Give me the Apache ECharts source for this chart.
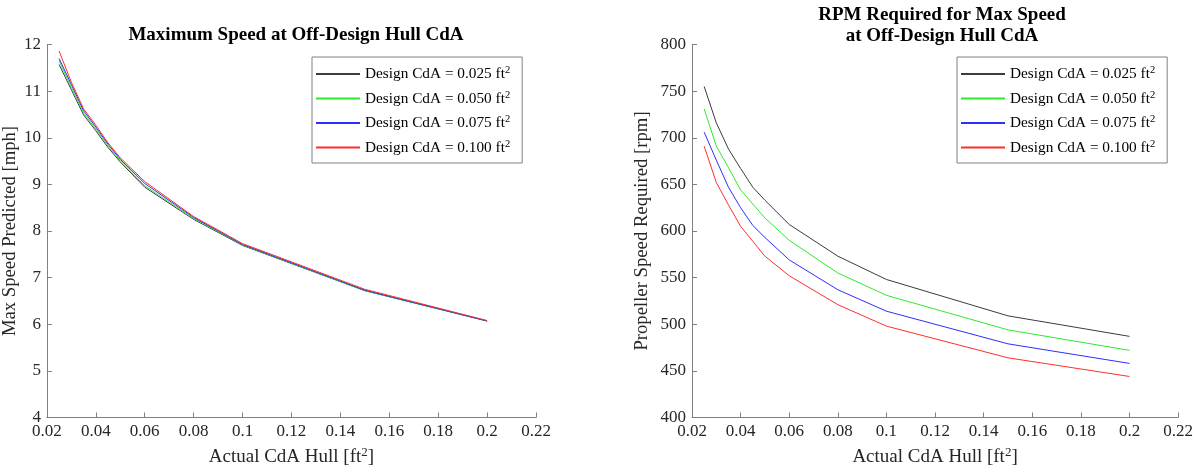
<!DOCTYPE html>
<html>
<head>
<meta charset="utf-8">
<script src="https://cdn.jsdelivr.net/npm/echarts@6/dist/echarts.min.js"></script>
<style>
html,body{margin:0;padding:0;background:#fff;}
#c{width:1196px;height:474px;}
</style>
</head>
<body>
<div id="c"></div>
<script>
// Actual hull CdA values [ft^2]
const cdaActual = [0.025, 0.03, 0.035, 0.04, 0.045, 0.05, 0.06, 0.08, 0.1, 0.15, 0.2];
const designNames = ['0.025', '0.050', '0.075', '0.100'];
// Max speed predicted [mph]
const speed025 = [11.57, 11.03, 10.49, 10.15, 9.79, 9.48, 8.94, 8.25, 7.69, 6.72, 6.07];
const speed050 = [11.65, 11.08, 10.53, 10.19, 9.82, 9.51, 8.97, 8.27, 7.70, 6.72, 6.07];
const speed075 = [11.70, 11.14, 10.58, 10.23, 9.86, 9.54, 9.02, 8.29, 7.71, 6.73, 6.07];
const speed100 = [11.86, 11.19, 10.62, 10.27, 9.89, 9.57, 9.06, 8.31, 7.73, 6.75, 6.08];
// Propeller speed required [rpm]
const rpm025 = [755, 716, 688, 667, 647, 633, 607, 573, 548, 509, 487];
const rpm050 = [731, 691, 668, 644, 629, 614, 590, 555, 531, 494, 472];
const rpm075 = [706, 676, 647, 625, 606, 593, 569, 537, 514, 479, 458];
const rpm100 = [691, 652, 628, 605, 589, 573, 552, 521, 498, 464, 444];
const xTicks = {min: 0.02, max: 0.22, interval: 0.02};
const ySpeedTicks = {min: 4, max: 12, interval: 1};
const yRpmTicks = {min: 400, max: 800, interval: 50};

const colors = ['#3c3c3c', '#2eea2e', '#2e2eff', '#ff2e2e'];
const FONT = '"Liberation Serif", "DejaVu Serif", serif';
const AXC = '#808080';
const TXT = '#262626';
const richSup = {
  t: {fontFamily: FONT, fontSize: 19, color: TXT, lineHeight: 22},
  s: {fontFamily: FONT, fontSize: 13, color: TXT, lineHeight: 13, verticalAlign: 'top'}
};
const legendRich = {
  t: {fontFamily: FONT, fontSize: 15.3, color: '#000', lineHeight: 18},
  s: {fontFamily: FONT, fontSize: 10.5, color: '#000', lineHeight: 10, verticalAlign: 'top'}
};
const names = designNames.map(d => 'Design CdA = ' + d + ' ft');
function zip(ys){ return cdaActual.map((x,i)=>[x, ys[i]]); }
const speedSets = [speed025, speed050, speed075, speed100];
const rpmSets = [rpm025, rpm050, rpm075, rpm100];

function xAxis(gi){
  return {
    type: 'value', gridIndex: gi, min: xTicks.min, max: xTicks.max, interval: xTicks.interval,
    name: '{t|Actual CdA Hull [ft}{s|2}{t|]}', nameLocation: 'middle', nameGap: 29,
    nameTextStyle: {rich: richSup},
    axisLine: {show: true, lineStyle: {color: AXC, width: 1}},
    axisTick: {show: true, inside: true, length: 5, lineStyle: {color: AXC}},
    axisLabel: {color: TXT, fontFamily: FONT, fontSize: 17, margin: 6,
      formatter: v => String(+v.toFixed(2))},
    splitLine: {show: false}
  };
}
function yAxis(gi, t, nm, gap){
  return {
    type: 'value', gridIndex: gi, min: t.min, max: t.max, interval: t.interval,
    name: nm, nameLocation: 'middle', nameGap: gap,
    nameTextStyle: {fontFamily: FONT, fontSize: 18.7, color: TXT},
    axisLine: {show: true, lineStyle: {color: AXC, width: 1}},
    axisTick: {show: true, inside: true, length: 5, lineStyle: {color: AXC}},
    axisLabel: {color: TXT, fontFamily: FONT, fontSize: 17, margin: 6},
    splitLine: {show: false}
  };
}
function legend(left){
  return {
    left: left, top: 57, orient: 'vertical',
    data: names.map(n => ({name: n, icon: 'rect'})),
    padding: [8, 12, 8, 4], itemGap: 8, itemWidth: 44, itemHeight: 1.8, itemTextGap: 4,
    borderColor: AXC, borderWidth: 1, backgroundColor: '#fff',
    selectedMode: false,
    formatter: n => '{t|' + n + '}{s|2}',
    textStyle: {rich: legendRich, fontFamily: FONT, fontSize: 15.3}
  };
}
const series = [];
speedSets.forEach((ys,i)=>series.push({
  type: 'line', name: names[i], xAxisIndex: 0, yAxisIndex: 0, data: zip(ys),
  symbol: 'none', lineStyle: {color: colors[i], width: 1}, itemStyle: {color: colors[i]},
  animation: false, z: 2 + i
}));
rpmSets.forEach((ys,i)=>series.push({
  type: 'line', name: names[i], xAxisIndex: 1, yAxisIndex: 1, data: zip(ys),
  symbol: 'none', lineStyle: {color: colors[i], width: 1}, itemStyle: {color: colors[i]},
  animation: false, z: 2 + i
}));

const chart = echarts.init(document.getElementById('c'));
chart.setOption({
  backgroundColor: '#fff',
  animation: false,
  title: [
    {text: 'Maximum Speed at Off-Design Hull CdA', left: 291, top: 21, textAlign: 'center',
     textStyle: {fontFamily: FONT, fontSize: 19, fontWeight: 'bold', color: '#000'}},
    {text: 'RPM Required for Max Speed\nat Off-Design Hull CdA', left: 937, top: 0, textAlign: 'center',
     textStyle: {fontFamily: FONT, fontSize: 19, fontWeight: 'bold', color: '#000', lineHeight: 21}}
  ],
  grid: [
    {left: 46, right: 660, top: 44.5, bottom: 56.5, containLabel: false},
    {left: 692, right: 14, top: 44.5, bottom: 56.5, containLabel: false}
  ],
  xAxis: [xAxis(0), xAxis(1)],
  yAxis: [yAxis(0, ySpeedTicks, 'Max Speed Predicted [mph]', 25), yAxis(1, yRpmTicks, 'Propeller Speed Required [rpm]', 40)],
  legend: [legend(312), legend(957)],
  series: series
});
</script>
</body>
</html>
